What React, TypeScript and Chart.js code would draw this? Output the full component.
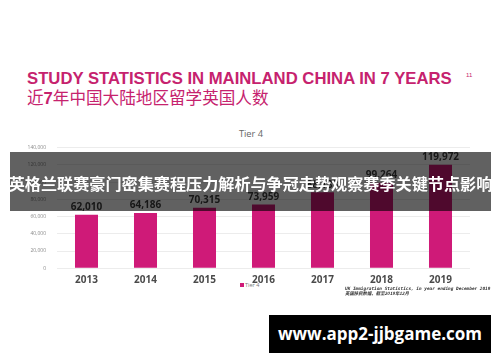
import React, { useEffect, useRef } from "react";
import { Chart, registerables } from "chart.js";

Chart.register(...registerables);

// ---- data ----
const years = ["2013", "2014", "2015", "2016", "2017", "2018", "2019"];
const tier4Visas = [62010, 64186, 70315, 73959, 88183, 99264, 119972];
const seriesName = "Tier 4";
const yMax = 140000;
const yStep = 20000;

const titleEn = "STUDY STATISTICS IN MAINLAND CHINA IN 7 YEARS";
const titleZhA = "近";
const titleZhNum = "7";
const titleZhB = "年中国大陆地区留学英国人数";
const pageNo = "11";
const chartTitle = "Tier 4";
const bannerText = "英格兰联赛豪门密集赛程压力解析与争冠走势观察赛季关键节点影响";
const sourceEn = "UK Immigration Statistics, in year ending December 2019";
const sourceZh = "英国移民数据，截至2019年12月";
const watermark = "www.app2-jjbgame.com";

const PINK = "#cf1a78";
const TITLE_PINK = "#c6226e";

const fmt = (n: number) => String(Math.round(n)).replace(/\B(?=(\d{3})+(?!\d))/g, ",");

export default function App() {
  const ref = useRef<HTMLCanvasElement>(null);

  useEffect(() => {
    document.body.style.margin = "0";
    const valueLabels = {
      id: "valueLabels",
      afterDatasetsDraw(chart: any) {
        const ctx = chart.ctx;
        const meta = chart.getDatasetMeta(0);
        ctx.save();
        ctx.font = "bold 10px 'Open Sans'";
        ctx.fillStyle = "#3d3d3d";
        ctx.textAlign = "center";
        ctx.textBaseline = "alphabetic";
        meta.data.forEach((el: any, i: number) => {
          ctx.fillText(fmt(tier4Visas[i]), el.x, el.y - 4.5);
        });
        ctx.restore();
      },
    };
    const chart = new Chart(ref.current as HTMLCanvasElement, {
      type: "bar",
      data: {
        labels: years,
        datasets: [
          {
            label: seriesName,
            data: tier4Visas,
            backgroundColor: PINK,
            categoryPercentage: 1,
            barPercentage: 0.39,
          },
        ],
      },
      options: {
        animation: false,
        responsive: false,
        devicePixelRatio: 1,
        layout: { padding: { top: 147.6, right: 30, left: 0, bottom: 0 } },
        plugins: { legend: { display: false }, tooltip: { enabled: false }, title: { display: false } },
        scales: {
          x: {
            grid: { display: false, drawTicks: false },
            border: { display: false },
            ticks: {
              color: "#4a4a4a",
              font: { family: "'Open Sans'", size: 10, weight: "bold" },
              padding: 6,
            },
            afterFit(s: any) {
              s.height = 362 - 268.3;
            },
          },
          y: {
            min: 0,
            max: yMax,
            ticks: {
              stepSize: yStep,
              color: "#8a8a8a",
              font: { family: "'Open Sans'", size: 5 },
              padding: 11,
              callback: (v: any) => fmt(Number(v)),
            },
            grid: { color: "#ececec", drawTicks: false },
            border: { display: false },
            afterFit(s: any) {
              s.width = 57;
            },
          },
        },
      },
      plugins: [valueLabels],
    } as any);
    return () => chart.destroy();
  }, []);

  const abs = (o: React.CSSProperties): React.CSSProperties => ({ position: "absolute", whiteSpace: "nowrap", ...o });

  return (
    <div style={{ position: "fixed", left: 0, top: 0, width: 500, height: 362, background: "#fff", overflow: "hidden" }}>
      <div
        style={abs({
          left: 27,
          top: 71.1,
          fontFamily: "'Liberation Sans', Arial, sans-serif",
          fontWeight: 700,
          fontSize: 16.7,
          lineHeight: "16.7px",
          color: TITLE_PINK,
        })}
      >
        {titleEn}
      </div>
      <div
        style={abs({
          left: 466,
          top: 72,
          fontFamily: "'Liberation Sans', Arial, sans-serif",
          fontSize: 6,
          lineHeight: "6px",
          color: TITLE_PINK,
        })}
      >
        {pageNo}
      </div>
      <div
        style={abs({
          left: 27,
          top: 88.7,
          fontFamily: "'Noto Sans CJK SC', sans-serif",
          fontSize: 16.6,
          lineHeight: "16.6px",
          color: TITLE_PINK,
        })}
      >
        {titleZhA}
        <b style={{ fontFamily: "'Liberation Sans', Arial, sans-serif" }}>{titleZhNum}</b>
        {titleZhB}
      </div>
      <div
        style={abs({
          left: 200,
          width: 102,
          textAlign: "center",
          top: 127.5,
          fontFamily: "'Open Sans', sans-serif",
          fontSize: 9.3,
          lineHeight: "11px",
          color: "#666",
        })}
      >
        {chartTitle}
      </div>
      {/* legend under canvas */}
      <div style={abs({ left: 240, top: 283, width: 3.5, height: 3.5, background: PINK })} />
      <div
        style={abs({
          left: 245,
          top: 282,
          fontFamily: "'Open Sans', sans-serif",
          fontSize: 5.5,
          lineHeight: "6px",
          color: "#777",
        })}
      >
        {seriesName}
      </div>
      <canvas ref={ref} width={500} height={362} style={{ position: "absolute", left: 0, top: 0, width: 500, height: 362 }} />
      <div
        style={abs({
          left: 345,
          top: 285.5,
          fontFamily: "'DejaVu Sans Mono', monospace",
          fontStyle: "italic",
          fontWeight: 700,
          fontSize: 4.4,
          lineHeight: "5.6px",
          color: "#333",
        })}
      >
        <div>{sourceEn}</div>
        <div style={{ fontFamily: "'Noto Sans CJK SC', sans-serif" }}>{sourceZh}</div>
      </div>
      <div
        style={{
          position: "absolute",
          left: 10,
          top: 152,
          width: 481,
          height: 58.7,
          background: "rgba(0,0,0,0.62)",
          display: "flex",
          alignItems: "center",
          justifyContent: "center",
        }}
      >
        <div
          style={{
            whiteSpace: "nowrap",
            color: "#fff",
            fontFamily: "'Noto Sans CJK SC', sans-serif",
            fontWeight: 700,
            fontSize: 15.5,
            letterSpacing: 0,
            transform: "scaleX(1.04)",
            lineHeight: "16px",
            marginTop: 3,
          }}
        >
          {bannerText}
        </div>
      </div>
      <div
        style={{
          position: "absolute",
          left: 269,
          top: 315,
          width: 222,
          height: 37.7,
          background: "#000",
          display: "flex",
          alignItems: "center",
          justifyContent: "center",
        }}
      >
        <div
          style={{
            whiteSpace: "nowrap",
            color: "#fff",
            fontFamily: "'Open Sans', sans-serif",
            fontWeight: 700,
            fontSize: 17,
            lineHeight: "17px",
          }}
        >
          {watermark}
        </div>
      </div>
    </div>
  );
}
